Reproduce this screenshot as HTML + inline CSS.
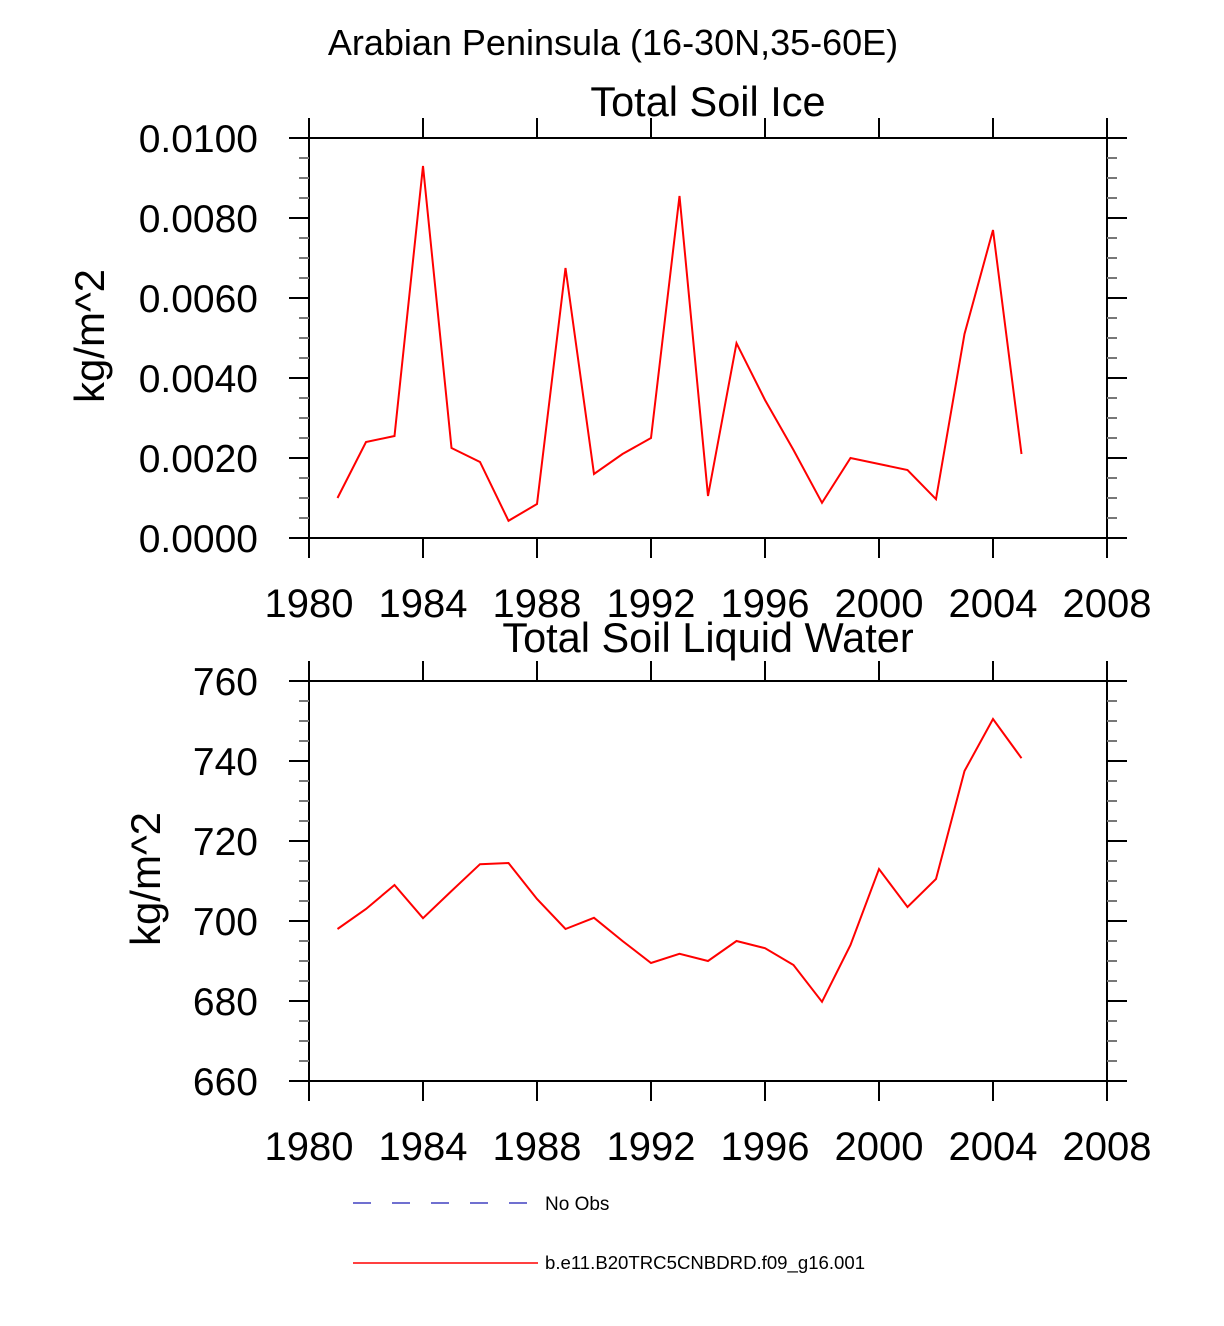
<!DOCTYPE html>
<html><head><meta charset="utf-8"><style>body{margin:0;background:#fff}svg{display:block;font-family:"Liberation Sans",Arial,sans-serif}</style></head>
<body>
<svg id="s" width="1224" height="1326" viewBox="0 0 1224 1326">
<text x="613" y="55" font-size="36" text-anchor="middle">Arabian Peninsula (16-30N,35-60E)</text>
<g id="p1"></g><g id="p2"></g>
<g>
<line x1="353" y1="1203" x2="532" y2="1203" stroke="#4040c0" stroke-width="1.5" stroke-dasharray="18,21"/>
<text x="545" y="1210" font-size="19">No Obs</text>
<line x1="353" y1="1263" x2="538" y2="1263" stroke="red" stroke-width="1.5"/>
<text x="545" y="1269" font-size="18.6">b.e11.B20TRC5CNBDRD.f09_g16.001</text>
</g>
</svg>
<script>
const years=[1981,1982,1983,1984,1985,1986,1987,1988,1989,1990,1991,1992,1993,1994,1995,1996,1997,1998,1999,2000,2001,2002,2003,2004,2005];
const iceValues=[0.0010,0.0024,0.00255,0.0093,0.00225,0.0019,0.00043,0.00085,0.00675,0.0016,0.0021,0.0025,0.00855,0.00105,0.00487,0.00345,0.0022,0.00088,0.0020,0.00185,0.0017,0.00097,0.0051,0.0077,0.0021];
const liqValues=[698,703,709,700.7,707.5,714.2,714.5,705.5,698,700.8,695,689.5,691.8,690,695,693.2,689,679.8,694,713,703.5,710.5,737.5,750.5,740.7];
const xTicks=[1980,1984,1988,1992,1996,2000,2004,2008];
const iceTicks=["0.0000","0.0020","0.0040","0.0060","0.0080","0.0100"];
const liqTicks=["660","680","700","720","740","760"];
const NS="http://www.w3.org/2000/svg";
function mk(p,t,a){const e=document.createElementNS(NS,t);for(const k in a)e.setAttribute(k,a[k]);p.appendChild(e);return e;}
function panel(g,top,title,ticks,vals,name,titleOff){
 const L=309,R=1107,T=top,B=top+400,x0=1980,x1=2008;
 const y0=+ticks[0],y1=+ticks[ticks.length-1];
 const xs=v=>L+(v-x0)/(x1-x0)*(R-L), ys=v=>B-(v-y0)/(y1-y0)*(B-T);
 let t=mk(g,'text',{x:708,y:T-titleOff,'font-size':41.5,'text-anchor':'middle'});t.textContent=title;
 
 
 const r=mk(g,'rect',{x:L,y:T,width:R-L,height:B-T,fill:'none',stroke:'#000','stroke-width':2});
 
 
 xTicks.forEach(v=>{const X=xs(v);
  mk(g,'line',{x1:X,y1:T,x2:X,y2:T-20,stroke:'#000','stroke-width':2});
  mk(g,'line',{x1:X,y1:B,x2:X,y2:B+20,stroke:'#000','stroke-width':2});
  const l=mk(g,'text',{x:X,y:B+79,'font-size':40,'text-anchor':'middle'});l.textContent=v;
  
  });
 ticks.forEach((s,i)=>{const v=+s,Y=ys(v);
  mk(g,'line',{x1:L,y1:Y,x2:L-20,y2:Y,stroke:'#000','stroke-width':2});
  mk(g,'line',{x1:R,y1:Y,x2:R+20,y2:Y,stroke:'#000','stroke-width':2});
  const l=mk(g,'text',{x:258,y:Y+14,'font-size':39,'text-anchor':'end'});l.textContent=s;
  
  
  if(i<ticks.length-1){const st=(+ticks[1]-+ticks[0])/4;for(let k=1;k<4;k++){const Ym=ys(v+st*k);
   mk(g,'line',{x1:L,y1:Ym,x2:L-10,y2:Ym,stroke:'#777','stroke-width':2});
   mk(g,'line',{x1:R,y1:Ym,x2:R+10,y2:Ym,stroke:'#777','stroke-width':2});}}});
 const yl=mk(g,'text',{x:0,y:0,'font-size':42,'text-anchor':'middle',transform:`translate(${name==='ice'?104:160},${(T+B)/2-2}) rotate(-90)`});yl.textContent='kg/m^2';
 
 
 const pl=mk(g,'polyline',{points:years.map((y,i)=>xs(y)+','+ys(vals[i])).join(' '),fill:'none',stroke:'red','stroke-width':2});
 
 
}
panel(document.getElementById('p1'),138,'Total Soil Ice',iceTicks,iceValues,'ice',22);
panel(document.getElementById('p2'),681,'Total Soil Liquid Water',liqTicks,liqValues,'liquid',29);
</script>
</body></html>
